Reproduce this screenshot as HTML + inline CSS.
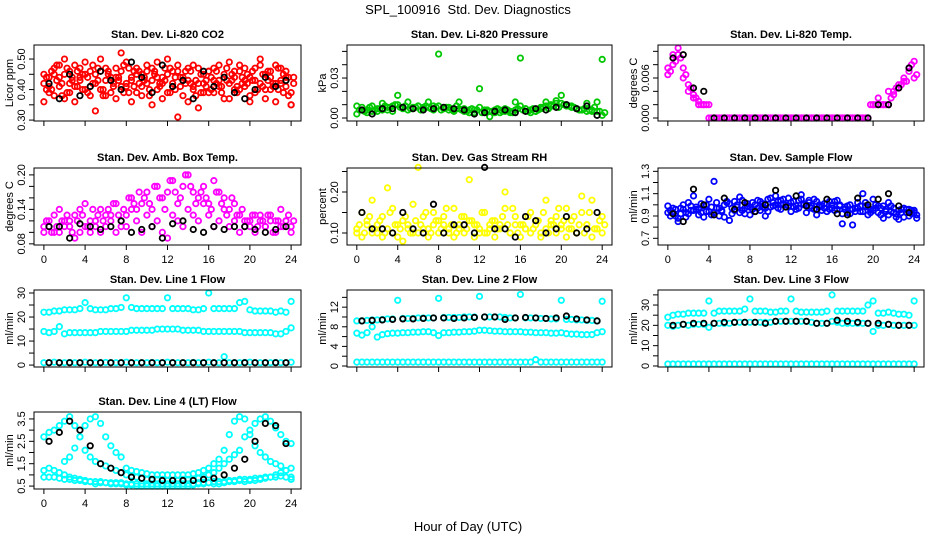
<!DOCTYPE html>
<html><head><meta charset="utf-8"><style>
html,body{margin:0;padding:0;background:#fff;}
svg{display:block;font-family:"Liberation Sans",sans-serif;}
</style></head><body>
<svg id="chart" width="936" height="540" viewBox="0 0 936 540" xmlns="http://www.w3.org/2000/svg">
<rect x="0" y="0" width="936" height="540" fill="#fff"/>
<text x="468" y="14" font-size="13" text-anchor="middle">SPL_100916&#160; Std. Dev. Diagnostics</text>
<text x="468" y="531" font-size="13" text-anchor="middle">Hour of Day (UTC)</text>
</svg>
<script>
const xTicks=[0,4,8,12,16,20,24];
// CO2
const co2A=[0.36,0.44,0.47,0.41,0.45,0.39,0.48,0.43,0.40,0.46,0.42,0.50,0.38,0.44,0.47,0.41,0.49,0.43,0.39,0.45,0.42,0.47,0.40,0.44,0.50,0.41,0.46,0.38,0.43,0.48,0.42,0.45,0.39,0.47,0.41,0.44,0.49,0.40,0.46,0.43,0.38,0.47,0.42,0.45,0.40,0.48,0.43,0.41,0.35];
const co2B=[0.42,0.39,0.45,0.48,0.37,0.46,0.41,0.44,0.49,0.38,0.45,0.40,0.47,0.43,0.37,0.46,0.41,0.44,0.47,0.38,0.46,0.43,0.49,0.37,0.45,0.42,0.48,0.44,0.36,0.41,0.47,0.39,0.46,0.43,0.48,0.37,0.42,0.46,0.40,0.47,0.44,0.39,0.48,0.37,0.46,0.42,0.47,0.44,0.39];
const co2C=[0.45,0.41,0.38,0.44,0.50,0.42,0.36,0.47,0.45,0.41,0.33,0.46,0.43,0.39,0.44,0.52,0.42,0.36,0.45,0.41,0.48,0.35,0.44,0.42,0.39,0.46,0.31,0.43,0.47,0.40,0.34,0.42,0.46,0.39,0.43,0.45,0.37,0.44,0.48,0.41,0.36,0.43,0.50,0.40,0.44,0.36,0.42,0.46,0.35];
const co2D=[0.40,0.46,0.43,0.38,0.47,0.44,0.41,0.45,0.39,0.48,0.43,0.40,0.46,0.42,0.44,0.39,0.47,0.41,0.46,0.43,0.40,0.45,0.42,0.47,0.39,0.44,0.41,0.46,0.42,0.38,0.45,0.43,0.40,0.46,0.41,0.47,0.43,0.39,0.44,0.42,0.46,0.40,0.45,0.43,0.41,0.47,0.39,0.44,0.42];
const co2E=[0.44,0.40,0.48,0.42,0.39,0.43,0.46,0.40,0.44,0.42,0.47,0.38,0.45,0.41,0.43,0.48,0.39,0.46,0.42,0.44,0.38,0.46,0.41,0.43,0.47,0.40,0.44,0.42,0.46,0.43,0.39,0.41,0.44,0.42,0.39,0.43,0.45,0.41,0.42,0.45,0.43,0.40,0.41,0.46,0.42,0.40,0.45,0.38,0.44];
const co2K=[0.42,0.37,0.45,0.38,0.41,0.46,0.43,0.40,0.49,0.44,0.39,0.48,0.41,0.43,0.37,0.46,0.41,0.44,0.39,0.37,0.40,0.44,0.41,0.43];
const co2Ticks=[0.30,0.35,0.40,0.45,0.50];const co2Labels=["0.30","","0.40","","0.50"];
// Pressure
const presA=[0.009,0.006,0.004,0.005,0.007,0.006,0.008,0.005,0.017,0.007,0.006,0.008,0.009,0.007,0.008,0.006,0.048,0.007,0.006,0.005,0.007,0.005,0.004,0.006,0.022,0.006,0.005,0.004,0.006,0.005,0.004,0.006,0.045,0.007,0.006,0.005,0.008,0.009,0.010,0.011,0.017,0.009,0.008,0.007,0.006,0.005,0.006,0.005,0.044];
const presB=[0.003,0.008,0.006,0.009,0.005,0.011,0.006,0.009,0.010,0.008,0.012,0.007,0.009,0.008,0.012,0.009,0.009,0.007,0.008,0.006,0.012,0.007,0.006,0.004,0.008,0.005,0.001,0.006,0.004,0.007,0.005,0.012,0.009,0.007,0.004,0.005,0.007,0.012,0.009,0.013,0.011,0.010,0.009,0.007,0.006,0.011,0.005,0.012,0.002];
const presC=[0.006,0.005,0.008,0.006,0.007,0.009,0.008,0.010,0.008,0.009,0.007,0.008,0.006,0.009,0.007,0.008,0.006,0.008,0.007,0.009,0.006,0.005,0.007,0.006,0.004,0.006,0.005,0.007,0.005,0.006,0.004,0.007,0.006,0.005,0.007,0.006,0.008,0.007,0.009,0.008,0.010,0.009,0.008,0.006,0.007,0.006,0.008,0.005,0.004];
const presK=[0.006,0.003,0.007,0.007,0.008,0.007,0.006,0.007,0.008,0.007,0.006,0.003,0.004,0.005,0.006,0.004,0.005,0.007,0.006,0.008,0.010,0.007,0.009,0.002];
const presTicks=[0,0.01,0.02,0.03,0.04,0.05];const presLabels=["0.00","","","0.03","",""];
// Li-820 Temp
const tempA=[0.0075,0.0095,0.0095,0.006,0.004,0.003,0.002,0.002,0,0,0,0,0,0,0,0,0,0,0,0,0,0,0,0,0,0,0,0,0,0,0,0,0,0,0,0,0,0,0,0,0.002,0.002,0.002,0.002,0.004,0.005,0.006,0.007,0.0085];
const tempB=[0.0065,0.008,0.0105,0.0075,0.005,0.0035,0.0025,0.002,0.002,0,0,0,0,0,0,0,0,0,0,0,0,0,0,0,0,0,0,0,0,0,0,0,0,0,0,0,0,0,0,0,0.002,0.003,0.002,0.004,0.0035,0.0045,0.0055,0.0075,0.006];
const tempC=[0.007,0.0085,0.009,0.0065,0.0045,0.003,0.002,0.002,0,0,0,0,0,0,0,0,0,0,0,0,0,0,0,0,0,0,0,0,0,0,0,0,0,0,0,0,0,0,0,0.002,0.002,0.002,0.002,0.003,0.0045,0.005,0.0055,0.008,0.0065];
const tempK=[0.009,0.0095,0.0045,0.004,0,0,0,0,0,0,0,0,0,0,0,0,0,0,0,0,0.002,0.002,0.0045,0.0075];
const tempTicks=[0,0.002,0.004,0.006,0.008,0.010];const tempLabels=["0.000","","","0.006","",""];
// Amb box temp
const ambA=[0.11,0.12,0.10,0.14,0.12,0.11,0.13,0.10,0.15,0.12,0.11,0.14,0.13,0.12,0.15,0.11,0.13,0.16,0.14,0.15,0.17,0.14,0.18,0.16,0.17,0.19,0.15,0.18,0.20,0.17,0.16,0.18,0.15,0.19,0.17,0.16,0.14,0.15,0.13,0.12,0.11,0.13,0.12,0.11,0.13,0.12,0.14,0.12,0.11];
const ambB=[0.10,0.11,0.13,0.10,0.11,0.12,0.09,0.14,0.11,0.10,0.12,0.10,0.11,0.13,0.10,0.12,0.11,0.14,0.12,0.10,0.13,0.11,0.12,0.10,0.09,0.13,0.12,0.11,0.14,0.13,0.12,0.15,0.13,0.11,0.12,0.14,0.11,0.12,0.10,0.11,0.12,0.10,0.13,0.11,0.12,0.10,0.11,0.12,0.10];
const ambC=[0.12,0.10,0.11,0.12,0.13,0.10,0.12,0.13,0.11,0.14,0.13,0.12,0.14,0.15,0.13,0.14,0.16,0.15,0.17,0.16,0.15,0.18,0.16,0.14,0.19,0.17,0.16,0.20,0.18,0.15,0.17,0.16,0.14,0.17,0.15,0.13,0.16,0.13,0.14,0.12,0.13,0.11,0.12,0.13,0.10,0.12,0.11,0.13,0.12];
const ambK=[0.11,0.11,0.09,0.115,0.11,0.105,0.11,0.12,0.10,0.105,0.11,0.09,0.115,0.12,0.105,0.10,0.11,0.105,0.11,0.11,0.105,0.10,0.105,0.11];
const ambTicks=[0.08,0.10,0.12,0.14,0.16,0.18,0.20];const ambLabels=["0.08","","","0.14","","","0.20"];
// RH
const rhA=[0.10,0.15,0.12,0.18,0.10,0.14,0.11,0.16,0.09,0.13,0.12,0.17,0.10,0.14,0.11,0.15,0.13,0.12,0.10,0.16,0.11,0.14,0.23,0.12,0.10,0.15,0.11,0.13,0.12,0.16,0.10,0.14,0.12,0.11,0.15,0.13,0.10,0.18,0.12,0.14,0.11,0.16,0.13,0.10,0.15,0.12,0.18,0.11,0.14];
const rhB=[0.11,0.09,0.13,0.10,0.12,0.09,0.21,0.10,0.12,0.08,0.11,0.10,0.26,0.11,0.09,0.12,0.10,0.14,0.11,0.09,0.12,0.10,0.13,0.09,0.11,0.10,0.12,0.09,0.11,0.20,0.10,0.12,0.09,0.11,0.10,0.12,0.09,0.11,0.13,0.10,0.12,0.09,0.11,0.10,0.19,0.12,0.09,0.11,0.10];
const rhC=[0.12,0.10,0.14,0.11,0.13,0.10,0.15,0.12,0.11,0.14,0.10,0.13,0.12,0.15,0.10,0.13,0.11,0.16,0.12,0.10,0.14,0.11,0.13,0.12,0.15,0.10,0.13,0.11,0.14,0.12,0.16,0.10,0.12,0.14,0.11,0.13,0.15,0.10,0.12,0.16,0.13,0.11,0.14,0.12,0.10,0.15,0.11,0.13,0.12];
const rhK=[0.15,0.11,0.11,0.10,0.15,0.11,0.10,0.17,0.10,0.12,0.12,0.10,0.26,0.11,0.11,0.09,0.14,0.13,0.10,0.11,0.14,0.10,0.11,0.15];
const rhTicks=[0.10,0.15,0.20,0.25];const rhLabels=["0.10","","0.20",""];
// Sample flow
const sfA=[0.99,0.93,0.88,0.96,1.02,0.95,0.91,0.99,1.05,0.93,0.97,0.89,1.01,0.95,1.07,0.92,0.98,0.94,1.03,0.97,1.06,1.00,1.04,0.98,1.02,0.96,1.05,1.00,0.99,1.03,0.95,1.01,0.97,1.04,0.92,0.99,0.96,1.02,0.94,0.98,1.05,0.93,0.99,0.91,0.97,0.95,0.89,0.96,0.93];
const sfB=[0.93,0.97,0.85,1.00,0.92,1.08,0.96,0.89,0.94,1.21,0.90,1.00,0.86,1.03,0.93,0.97,0.91,1.00,0.95,0.90,0.98,1.08,0.96,1.00,0.94,0.99,1.09,0.93,0.97,0.91,0.99,0.94,1.00,0.96,0.83,0.93,0.82,0.97,1.10,0.91,0.95,0.99,0.88,1.02,0.93,0.87,0.97,0.90,0.95];
const sfC=[0.95,0.90,0.97,0.93,0.99,0.96,1.01,0.94,0.98,1.02,0.95,1.03,0.97,1.00,1.04,0.99,1.02,0.97,1.01,1.05,0.99,1.03,1.01,1.06,0.98,1.04,1.00,1.02,1.05,0.98,1.01,0.96,1.03,0.99,0.96,1.00,0.94,0.99,1.02,0.96,1.00,0.97,0.94,0.99,0.92,0.96,0.93,0.95,0.91];
const sfD=[0.90,0.96,0.92,0.89,0.95,0.98,0.93,1.00,0.91,0.97,0.94,1.02,0.92,0.98,0.95,1.01,0.96,1.04,0.98,0.94,1.02,0.97,1.05,0.99,1.03,0.97,1.01,1.04,0.96,1.00,0.97,1.03,0.95,1.00,0.98,0.92,0.97,0.94,0.99,0.93,0.97,0.91,0.96,0.94,0.89,0.93,0.96,0.92,0.88];
const sfK=[0.92,0.85,1.14,1.00,0.91,1.06,0.96,1.02,0.94,1.00,1.13,0.98,1.08,0.99,0.96,1.05,0.92,0.91,1.06,1.00,1.05,1.10,0.99,0.93];
const sfTicks=[0.7,0.8,0.9,1.0,1.1,1.2,1.3];const sfLabels=["0.7","","0.9","","1.1","","1.3"];
// Line 1
const l1Up=[22,22,22.5,22.5,23,23,23,23.5,26,23.5,23,23,23,23.5,23.5,24,28,24,23.5,23.5,23.5,23.5,23.5,23.5,28,23.5,23.5,23.5,23.5,23,23,23.5,30,23.5,23.5,23.5,23.5,23.5,26,26.5,23,22.5,22.5,22.5,22.5,22,22.5,22,26.5];
const l1Mid=[14,13.5,14,16,13,13.5,13.5,13.5,13.5,13.5,13.5,14,14,14,14,14,14,14.5,14.5,14.5,14.5,14.5,15,15,15,15,15,14.5,14.5,14.5,14.5,14,14,14,14,14,14,14,14,13.5,13.5,13.5,13.5,13.5,13.5,13,13,14,15.5];
const l1Low=[1,1,1.2,1,1,1.1,1,1,1.2,1,1,1,1.1,1,1,1,1.2,1,1,1,1,1.1,1,1,1.2,1,1,1,1,1.1,1,1,1.2,1,1,3.5,1,1,1,1.1,1.2,1,1,1,1,1.1,1,1,1.2];
const l1K=[1,1,1,1,1,1,1,1,1,1,1,1,1,1,1,1,1,1,1,1,1,1,1,1];
const l1Ticks=[0,5,10,15,20,25,30];const l1Labels=["0","","10","","20","","30"];
// Line 2
const l2Up=[9.2,9.2,9.3,9.4,9.4,9.5,9.6,9.6,13.4,9.7,9.7,9.7,9.8,9.8,9.8,9.8,13.8,9.9,9.9,9.9,9.9,10,10,10,14.2,10,10,10,10,9.9,9.8,9.8,14.6,9.8,9.8,9.8,9.7,9.7,9.6,9.6,13.4,9.5,9.5,9.4,9.4,9.3,9.3,9.2,13.2];
const l2Mid=[6.7,6.3,6.8,8,5.9,6.4,6.6,6.7,6.7,6.8,6.8,6.9,6.9,7,7,6.8,6.2,6.8,6.8,6.9,6.9,7,7,7.1,7.3,7.3,7.2,7.1,7.1,7,7,7,7,6.9,6.9,6.8,6.8,6.8,6.7,6.7,6.8,6.6,6.5,6.5,6.4,6.4,6.4,6.8,7];
const l2Low=[0.8,0.8,0.8,0.8,0.8,0.8,0.8,0.8,0.8,0.8,0.8,0.8,0.8,0.8,0.8,0.8,0.8,0.8,0.8,0.8,0.8,0.8,0.8,0.8,0.8,0.8,0.8,0.8,0.8,0.8,0.8,0.8,0.8,0.8,0.8,1.3,0.8,0.8,0.8,0.8,0.8,0.8,0.8,0.8,0.8,0.8,0.8,0.8,0.8];
const l2K=[9.2,9.3,9.4,9.5,9.6,9.6,9.7,9.8,9.8,9.7,9.8,9.9,10,10,9.5,9.8,9.9,9.8,9.7,9.8,10.2,9.6,9.4,9.2];
const l2Ticks=[0,2,4,6,8,10,12,14];const l2Labels=["0","","4","","8","","12",""];
// Line 3
const l3Up=[24,25,25.5,25.5,26,26,26,26,32,26,27,27,27,27,27,28,33,27,27,27,26.5,26.5,27,27,33,27,26.5,26.5,26.5,26.5,26.5,27,35,27,27,27,27,27,27,30,32,26,26,26.5,26,25.5,25.5,25,32];
const l3Mid=[20,19.5,20,20.5,20,20.5,20.5,20.5,19,21,21,21,21,21.5,21.5,21.5,21.5,21.5,21.5,21.5,21.5,22,22,22,22,22,22,22,21.5,21,21,21,22,21.5,21,21,21,21,21,21,17,20,20,20.5,20,20,20,20,20];
const l3Low=[1,1,1,1,1,1,1,1,1,1,1,1,1,1,1,1,1,1,1,1,1,1,1,1,1,1,1,1,1,1,1,1,1,1,1,1,1,1,1,1,1,1,1,1,1,1,1,1,1];
const l3K=[20,20.5,21,21,21,21.5,21.5,21.5,21.5,21,22,22,22,22,21,21,22.5,22,21.5,21,21,20.5,20,20];
const l3Ticks=[0,5,10,15,20,25,30,35];const l3Labels=["0","","10","","20","","30",""];
// Line 4
const l4A=[2.7,2.9,3.0,3.2,3.4,3.6,3.2,2.7,2.1,1.8,1.6,1.5,1.4,1.3,1.2,1.1,1.0,0.95,0.9,0.85,0.8,0.8,0.8,0.8,0.75,0.75,0.75,0.8,0.8,0.8,0.85,0.9,1.0,1.1,1.3,1.5,1.7,1.9,2.1,2.7,3.0,3.3,3.5,3.6,3.4,3.1,2.8,2.5,2.4];
const l4B=[null,null,null,null,1.6,1.8,2.2,2.7,3.2,3.5,3.6,3.3,2.7,2.3,2.0,1.8,1.3,1.2,1.15,1.1,1.05,1.0,1.0,1.0,1.0,1.0,1.0,1.0,1.0,1.05,1.1,1.2,1.3,1.5,1.7,2.1,2.8,3.4,3.6,3.5,2.8,2.3,2.0,1.8,1.6,1.5,1.4,1.2,0.8];
const l4C=[1.2,1.3,1.2,1.1,1.0,0.9,0.85,0.8,0.75,0.7,0.6,0.65,0.65,0.6,0.6,0.6,0.55,0.55,0.5,0.5,0.5,0.5,0.5,0.5,0.5,0.5,0.5,0.5,0.5,0.55,0.6,0.6,0.65,0.6,0.6,0.65,0.7,0.7,0.75,0.7,0.75,0.75,0.8,0.85,0.9,1.0,1.1,1.2,1.3];
const l4D=[0.9,0.9,0.9,0.85,0.8,0.8,0.75,0.75,0.7,0.7,0.7,0.7,0.65,0.65,0.65,0.65,0.6,0.6,0.6,0.6,0.6,0.6,0.6,0.6,0.6,0.6,0.6,0.6,0.6,0.6,0.65,0.65,0.65,0.7,0.7,0.7,0.75,0.75,0.8,0.8,0.8,0.85,0.85,0.9,0.9,0.9,0.95,0.9,0.9];
const l4K=[2.5,2.9,3.4,3.0,2.3,1.5,1.3,1.1,0.9,0.85,0.8,0.75,0.75,0.75,0.75,0.8,0.85,1.0,1.3,1.7,2.5,3.3,3.2,2.4];
const l4Ticks=[0.5,1.0,1.5,2.0,2.5,3.0,3.5];const l4Labels=["0.5","","1.5","","2.5","","3.5"];

const NS="http://www.w3.org/2000/svg";
const svg=document.getElementById('chart');
const cols=[[34,301],[347,612],[658,924]];
const rows=[[45,121],[168,245],[290,367],[412,489]];
function mk(tag,attrs,parent){const e=document.createElementNS(NS,tag);for(const k in attrs)e.setAttribute(k,attrs[k]);(parent||svg).appendChild(e);return e;}

const panels=[
 {name:'co2',title:'Stan. Dev. Li-820 CO2',ylab:'Licor ppm',c:0,r:0,dom:[0.297,0.546],ticks:co2Ticks,labels:co2Labels,col:'#ff0000',series:[co2A,co2B,co2C],series2:[co2D,co2E],black:co2K},
 {name:'pressure',title:'Stan. Dev. Li-820 Pressure',ylab:'kPa',c:1,r:0,dom:[-0.00225,0.0548],ticks:presTicks,labels:presLabels,col:'#00c800',series:[presA,presB],series2:[presC],black:presK},
 {name:'li820-temp',title:'Stan. Dev. Li-820 Temp.',ylab:'degrees C',c:2,r:0,dom:[-0.00045,0.01095],ticks:tempTicks,labels:tempLabels,col:'#ff00ff',series:[tempA,tempB],series2:[tempC],black:tempK},
 {name:'amb-box-temp',title:'Stan. Dev. Amb. Box Temp.',ylab:'degrees C',c:0,r:1,dom:[0.078,0.212],ticks:ambTicks,labels:ambLabels,col:'#ff00ff',series:[ambA,ambB],series2:[ambC],black:ambK},
 {name:'gas-stream-rh',title:'Stan. Dev. Gas Stream RH',ylab:'percent',c:1,r:1,dom:[0.0707,0.2585],ticks:rhTicks,labels:rhLabels,col:'#ffff00',series:[rhA,rhB],series2:[rhC],black:rhK},
 {name:'sample-flow',title:'Stan. Dev. Sample Flow',ylab:'ml/min',c:2,r:1,dom:[0.64,1.33],ticks:sfTicks,labels:sfLabels,col:'#0000ff',series:[sfA,sfB],series2:[sfC,sfD],black:sfK},
 {name:'line1-flow',title:'Stan. Dev. Line 1 Flow',ylab:'ml/min',c:0,r:2,dom:[-0.8,31.25],ticks:l1Ticks,labels:l1Labels,col:'#00ffff',series:[l1Up,l1Mid,l1Low],series2:[],black:l1K},
 {name:'line2-flow',title:'Stan. Dev. Line 2 Flow',ylab:'ml/min',c:1,r:2,dom:[-0.2,15.5],ticks:l2Ticks,labels:l2Labels,col:'#00ffff',series:[l2Up,l2Mid,l2Low],series2:[],black:l2K},
 {name:'line3-flow',title:'Stan. Dev. Line 3 Flow',ylab:'ml/min',c:2,r:2,dom:[-0.5,37.4],ticks:l3Ticks,labels:l3Labels,col:'#00ffff',series:[l3Up,l3Mid,l3Low],series2:[],black:l3K},
 {name:'line4-flow',title:'Stan. Dev. Line 4 (LT) Flow',ylab:'ml/min',c:0,r:3,dom:[0.37,3.81],ticks:l4Ticks,labels:l4Labels,col:'#00ffff',series:[l4A,l4B,l4C,l4D],series2:[],black:l4K}
];

panels.forEach(p=>{
 const [x0,x1]=cols[p.c],[y0,y1]=rows[p.r];
 const g=mk('g',{});
 
 
 const xs=h=>x0+(h+0.96)/25.92*(x1-x0);
 const ys=v=>y1-(v-p.dom[0])/(p.dom[1]-p.dom[0])*(y1-y0);
 const t=mk('text',{x:(x0+x1)/2,y:y0-7,'font-size':11,'font-weight':'bold','text-anchor':'middle'},g);
 t.textContent=p.title;
 
 
 const yl=mk('text',{x:0,y:0,'font-size':11,'text-anchor':'middle',transform:`translate(${x0-21},${(y0+y1)/2}) rotate(-90)`},g);
 yl.textContent=p.ylab;
 
 
 xTicks.forEach(h=>{
  const X=xs(h);
  mk('line',{x1:X,x2:X,y1:y1,y2:y1+5,stroke:'#000','stroke-width':1},g);
  if(p.r===1||p.r===3){
   const tl=mk('text',{x:X,y:y1+18,'font-size':11,'text-anchor':'middle'},g);
   tl.textContent=h;
   
   
  }
 });
 p.ticks.forEach((v,i)=>{
  const Y=ys(v);
  mk('line',{x1:x0-5,x2:x0,y1:Y,y2:Y,stroke:'#000','stroke-width':1},g);
  if(p.labels[i]){
   const tl=mk('text',{x:0,y:0,'font-size':11,'text-anchor':'middle',transform:`translate(${x0-9},${Y}) rotate(-90)`},g);
   tl.textContent=p.labels[i];
   
   
  }
 });
 const drawSeries=(s,off)=>{
  s.forEach((v,i)=>{
   if(v===null)return;
   const c=mk('circle',{cx:xs(i*0.5+off),cy:ys(v),r:2.7,fill:'none',stroke:p.col,'stroke-width':1.8},g);
   
   
  });
 };
 p.series.forEach(s=>drawSeries(s,0));
 p.series2.forEach(s=>drawSeries(s,0.25));
 p.black.forEach((v,i)=>{
  const c=mk('circle',{cx:xs(i+0.5),cy:ys(v),r:2.7,fill:'none',stroke:'#000','stroke-width':1.8},g);
  
  
 });
 mk('rect',{x:x0,y:y0,width:x1-x0,height:y1-y0,fill:'none',stroke:'#000','stroke-width':1},g);
});
</script>
</body></html>
